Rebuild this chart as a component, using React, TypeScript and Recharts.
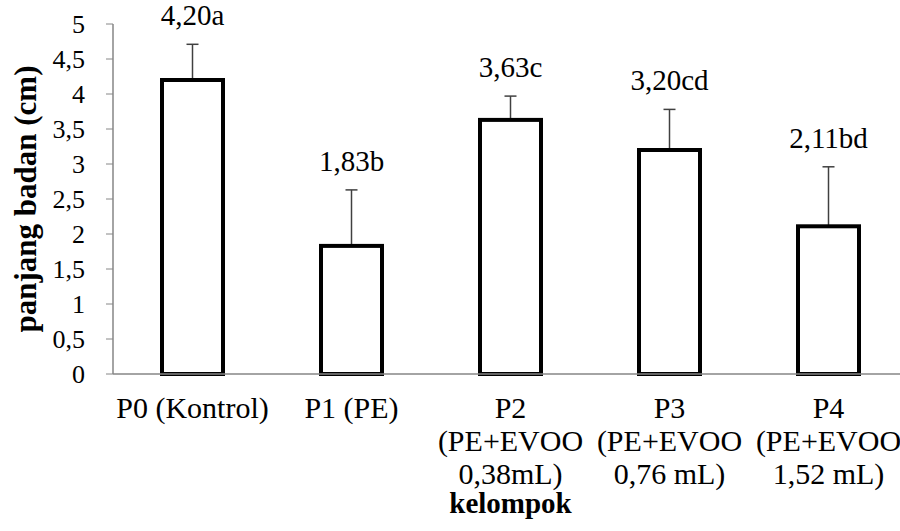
import { BarChart, Bar, XAxis, YAxis, LabelList, Label } from "recharts";

const categories = [
  "P0 (Kontrol)",
  "P1 (PE)",
  "P2\n(PE+EVOO\n0,38mL)",
  "P3\n(PE+EVOO\n0,76 mL)",
  "P4\n(PE+EVOO\n1,52 mL)",
];
const means = [4.2, 1.83, 3.63, 3.2, 2.11];
const errors = [0.51, 0.8, 0.34, 0.58, 0.85];
const letters = ["a", "b", "c", "cd", "bd"];
const yTicks = [0, 0.5, 1, 1.5, 2, 2.5, 3, 3.5, 4, 4.5, 5];
const edgeTicks = [0, 1, 2, 3, 4, 5];

const FONT = "Liberation Serif";
const AXIS = "#868686";

const data = categories.map((name, i) => ({
  name,
  mean: means[i],
  err: errors[i],
  pos: i + 0.5,
}));

const fmt = (v: number) => String(v).replace(".", ",");

// bar outline + upward-only error bar (drawn first so the outline covers its base)
const BarWithError = (props: any) => {
  const { x, y, width, height, payload } = props;
  const pxPerUnit = height / payload.mean;
  const cx = x + width / 2;
  const top = y - payload.err * pxPerUnit;
  return (
    <g>
      <line x1={cx} y1={y} x2={cx} y2={top} stroke="#404040" strokeWidth={1.5} />
      <line x1={cx - 6} y1={top} x2={cx + 6} y2={top} stroke="#404040" strokeWidth={1.5} />
      <rect x={x} y={y} width={width} height={height} fill="#fff" stroke="#000" strokeWidth={4} />
    </g>
  );
};

const CategoryTick = ({ x, y, payload }: any) => {
  const lines = String(payload.value).split("\n");
  return (
    <text x={x} y={y} textAnchor="middle" fontFamily={FONT} fontSize={30} fill="#000">
      {lines.map((ln, i) => (
        <tspan key={i} x={x} dy={i === 0 ? 36 : 33}>
          {ln}
        </tspan>
      ))}
    </text>
  );
};

const YTick = ({ x, y, payload }: any) => (
  <text x={x} y={y} dy={9} textAnchor="end" fontFamily={FONT} fontSize={26} fill="#000">
    {fmt(payload.value)}
  </text>
);

const ValueLabel = (props: any) => {
  const { x, y, width, height, index } = props;
  const pxPerUnit = Number(height) / means[index];
  const top = Number(y) - errors[index] * pxPerUnit;
  return (
    <text
      x={Number(x) + Number(width) / 2}
      y={top - 19}
      textAnchor="middle"
      fontFamily={FONT}
      fontSize={29}
      fill="#000"
    >
      {means[index].toFixed(2).replace(".", ",") + letters[index]}
    </text>
  );
};

const YTitle = ({ viewBox }: any) => {
  const cx = viewBox.x + 25;
  const cy = viewBox.y + viewBox.height / 2;
  return (
    <text
      x={cx}
      y={cy}
      transform={`rotate(-90, ${cx}, ${cy})`}
      textAnchor="middle"
      dominantBaseline="central"
      fontFamily={FONT}
      fontWeight="bold"
      fontSize={31}
      fill="#000"
    >
      panjang badan (cm)
    </text>
  );
};

const XTitle = ({ viewBox }: any) => (
  <text
    x={viewBox.x + viewBox.width / 2}
    y={viewBox.y + 139}
    textAnchor="middle"
    fontFamily={FONT}
    fontWeight="bold"
    fontSize={29}
    fill="#000"
  >
    kelompok
  </text>
);

export default function App() {
  return (
    <div style={{ position: "absolute", left: 0, top: 0, background: "#fff" }}>
      <BarChart
        width={900}
        height={531}
        data={data}
        margin={{ top: 24, right: -8, bottom: 0, left: 0 }}
      >
        <XAxis
          xAxisId="edges"
          type="number"
          dataKey="pos"
          domain={[0, 5]}
          ticks={edgeTicks}
          height={0}
          axisLine={false}
          tick={false}
          tickLine={{ stroke: AXIS }}
          tickSize={7}
        />
        <XAxis
          dataKey="name"
          interval={0}
          height={157}
          tickLine={false}
          axisLine={{ stroke: AXIS, strokeWidth: 1.5 }}
          tick={<CategoryTick />}
          tickSize={0}
          tickMargin={8}
        >
          <Label content={<XTitle />} />
        </XAxis>
        <YAxis
          width={113}
          domain={[0, 5]}
          ticks={yTicks}
          interval={0}
          axisLine={{ stroke: AXIS, strokeWidth: 1.5 }}
          tickLine={{ stroke: AXIS }}
          tickSize={7}
          tickMargin={21}
          tick={<YTick />}
        >
          <Label content={<YTitle />} />
        </YAxis>
        <Bar
          dataKey="mean"
          barSize={61}
          shape={<BarWithError />}
          isAnimationActive={false}
        >
          <LabelList dataKey="mean" content={<ValueLabel />} />
        </Bar>
      </BarChart>
    </div>
  );
}
